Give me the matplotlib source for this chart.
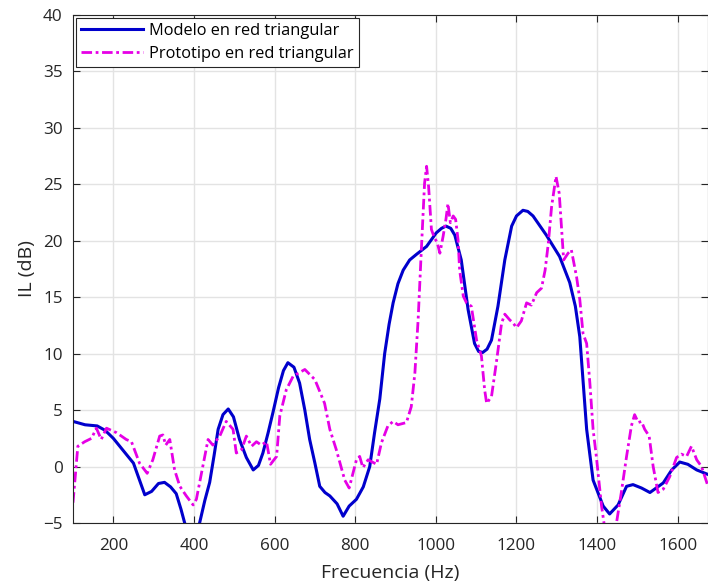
import matplotlib
matplotlib.use("Agg")
import matplotlib.pyplot as plt

plt.rcParams['font.family'] = ['Open Sans', 'DejaVu Sans']

# Modelo en red triangular (blue solid)
freq_model = [100, 130, 160, 180, 200, 225, 250, 265, 278, 295, 312, 327, 342, 356,
              368, 377, 390, 400, 414, 427, 439, 450, 460, 472, 485, 498, 513, 530,
              547, 560, 571, 584, 596, 610, 622, 633, 648, 662, 675, 687, 700, 712,
              725, 737, 755, 770, 785, 803, 820, 836, 848, 861, 873, 884, 894, 906, 919,
              935, 952, 977, 1001, 1014, 1025, 1037, 1047, 1063, 1080, 1096, 1106, 1116,
              1127, 1138, 1154, 1171, 1188, 1200, 1216, 1228, 1241, 1274, 1307, 1332,
              1346, 1357, 1374, 1390, 1415, 1431, 1452, 1473, 1489, 1510, 1531, 1564,
              1585, 1605, 1625, 1647, 1675]
il_model = [4.0, 3.7, 3.6, 3.2, 2.5, 1.4, 0.3, -1.2, -2.5, -2.2, -1.5, -1.4, -1.8, -2.4,
            -3.8, -5.0, -6.2, -6.6, -5.0, -3.0, -1.4, 1.0, 3.3, 4.6, 5.1, 4.4, 2.4, 0.8,
            -0.3, 0.1, 1.2, 3.0, 4.8, 7.0, 8.5, 9.2, 8.8, 7.4, 5.0, 2.4, 0.3, -1.75,
            -2.3, -2.6, -3.3, -4.4, -3.5, -2.9, -1.8, 0.0, 3.0, 6.0, 10.0, 12.6, 14.5, 16.2, 17.4,
            18.3, 18.8, 19.5, 20.7, 21.1, 21.3, 21.1, 20.5, 18.3, 13.9, 10.9, 10.2, 10.1,
            10.4, 11.2, 14.2, 18.3, 21.3, 22.2, 22.7, 22.6, 22.2, 20.5, 18.6, 16.3,
            14.2, 11.5, 3.3, -1.2, -3.5, -4.2, -3.4, -1.75, -1.6, -1.9, -2.3, -1.45,
            -0.3, 0.4, 0.2, -0.3, -0.7]

# Prototipo en red triangular (magenta dash-dot)
freq_proto = [100, 112, 129, 146, 158, 170, 183, 208, 232, 245, 265, 284, 298, 315, 323,
              330, 340, 352, 365, 381, 398, 406, 422, 435, 447, 464, 480, 497, 505, 518,
              530, 543, 555, 567, 580, 590, 605, 613, 629, 646, 675, 700, 724, 737, 753,
              774, 785, 803, 811, 819, 832, 853, 865, 881, 894, 906, 927, 939, 948, 956,
              964, 972, 977, 982, 989, 997, 1003, 1010, 1018, 1025, 1030, 1036, 1043,
              1049, 1055, 1059, 1068, 1076, 1088, 1101, 1113, 1121, 1126, 1138, 1150,
              1163, 1171, 1183, 1192, 1200, 1212, 1225, 1237, 1250, 1262, 1271, 1279,
              1287, 1298, 1306, 1312, 1317, 1328, 1336, 1349, 1357, 1365, 1374, 1382,
              1390, 1398, 1411, 1417, 1430, 1440, 1448, 1460, 1473, 1485, 1493, 1502,
              1510, 1518, 1529, 1539, 1551, 1564, 1580, 1597, 1609, 1622, 1634, 1647,
              1659, 1675]
il_proto = [-3.2, 1.8, 2.2, 2.5, 3.4, 2.4, 3.4, 3.0, 2.4, 2.2, 0.3, -0.6, 0.6, 2.7, 2.8,
            1.9, 2.4, -0.3, -1.75, -2.6, -3.4, -2.9, 0.0, 2.4, 1.9, 2.7, 4.0, 3.3, 1.2, 1.5,
            2.7, 1.8, 2.2, 1.9, 2.2, 0.2, 0.9, 4.5, 6.8, 8.0, 8.6, 7.7, 5.6, 3.3, 1.5,
            -1.2, -1.9, 0.6, 0.9, -0.1, 0.6, 0.2, 2.1, 3.6, 4.0, 3.7, 3.9, 5.3, 8.3, 13.0,
            19.2, 25.1, 26.6, 24.8, 21.0, 20.2, 19.9, 18.9, 20.4, 21.9, 23.3, 21.6, 22.2,
            21.9, 20.1, 17.4, 15.1, 14.5, 14.2, 11.2, 9.8, 6.8, 5.6, 6.2, 9.2,
            12.7, 13.5, 13.0, 12.7, 12.3, 12.9, 14.5, 14.3, 15.4, 15.8, 17.4, 19.8,
            23.0, 25.7, 24.2, 21.0, 18.3, 18.9, 19.2, 16.8, 14.8, 11.8, 10.9, 7.4,
            3.3, 0.9, -3.5, -5.0, -6.5, -6.3, -5.0, -2.3, 0.9, 3.6, 4.6, 3.9,
            4.0, 3.3, 2.7, 0.0, -2.3, -2.0, -0.9, 0.8, 1.1, 0.9, 1.8, 0.6,
            0.0, -1.75]

x_ticks = [200, 400, 600, 800, 1000, 1200, 1400, 1600]
y_ticks = [-5, 0, 5, 10, 15, 20, 25, 30, 35, 40]

fig = plt.figure(figsize=(7.08, 5.87), dpi=100)
ax = fig.add_axes([73 / 708, 1 - 523 / 587, 1 - 73 / 708, (523 - 15) / 587])

text_c = '#262626'
ax.plot(freq_model, il_model, color='#0000cc', lw=2.2, label='Modelo en red triangular',
        solid_joinstyle='round')
ax.plot(freq_proto, il_proto, color='#e600e6', lw=2.0,
        linestyle=(0, (3.8, 1.3, 1.0, 1.3)), label='Prototipo en red triangular')

ax.set_xlim(100, 1675)
ax.set_ylim(-5, 40)
ax.set_xticks(x_ticks)
ax.set_yticks(y_ticks)
ax.grid(True, color='#e3e3e3', lw=1.0)
ax.set_axisbelow(True)
ax.tick_params(direction='in', length=5, width=0.8, colors=text_c, labelsize=12.3,
               top=True, right=True, labelcolor=text_c)
ax.tick_params(axis='x', pad=11)
ax.tick_params(axis='y', pad=7.5)
for s in ax.spines.values():
    s.set_color(text_c)
    s.set_linewidth(0.8)

ax.set_xlabel('Frecuencia (Hz)', fontsize=14, color=text_c, labelpad=7)
ax.set_ylabel('IL (dB)', fontsize=14, color=text_c, labelpad=5)

leg = ax.legend(loc='upper left', fontsize=11.8, frameon=True, fancybox=False,
                edgecolor=text_c, framealpha=1, handlelength=3.8, borderpad=0.3,
                labelspacing=0.4, handletextpad=0.35, borderaxespad=0.2)
leg.get_frame().set_linewidth(0.8)

fig.savefig('out.png', dpi=100)
